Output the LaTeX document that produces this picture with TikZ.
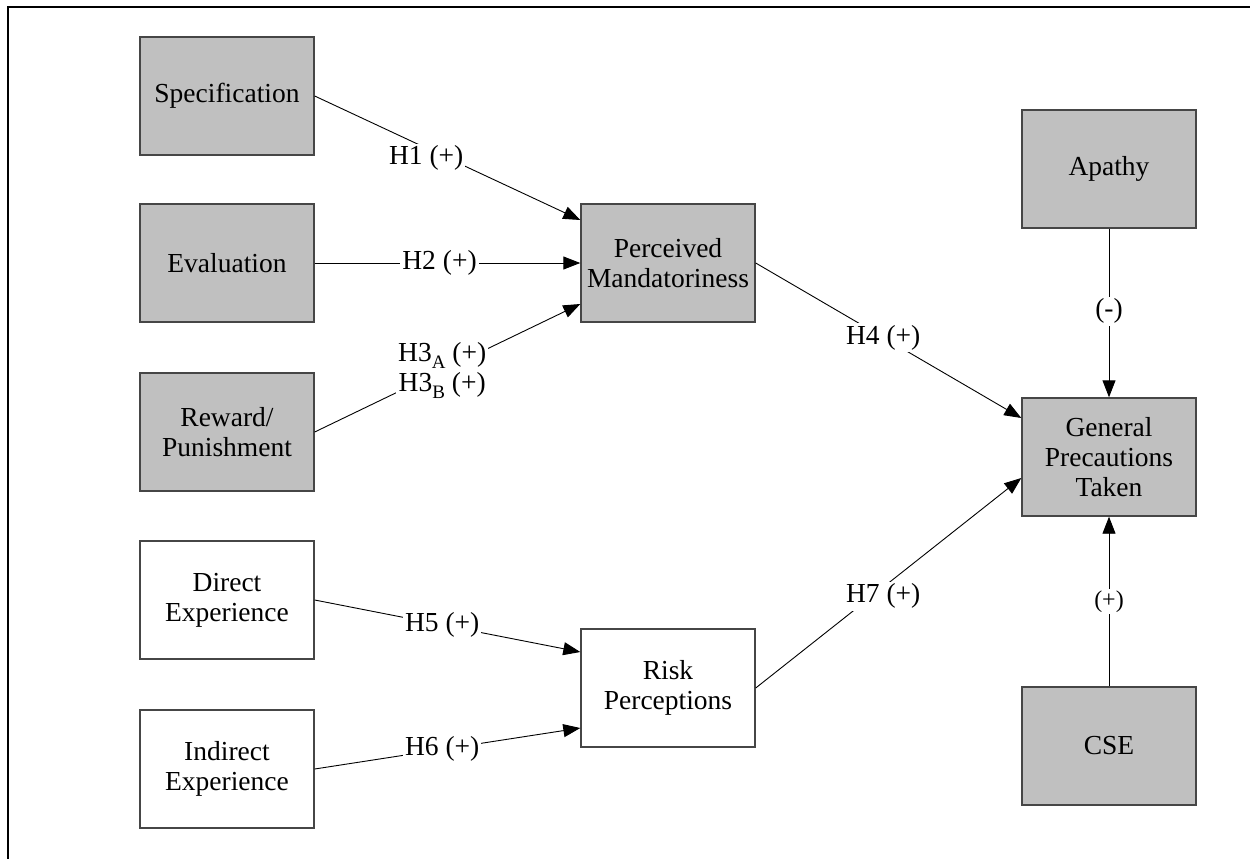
\documentclass[tikz,border=0pt]{standalone}
\usepackage{fontspec}
\setmainfont{Liberation Serif}
\usetikzlibrary{arrows.meta}
\definecolor{boxgray}{RGB}{192,192,192}
\definecolor{edgegray}{RGB}{70,70,70}
\newcommand\mysubscr[1]{\raisebox{-7pt}{\fontsize{19}{20}\selectfont #1}}
\begin{document}
\begin{tikzpicture}[x=1pt,y=-1pt,
  box/.style={draw=edgegray, line width=1.4pt, minimum width=174pt, minimum height=118pt, align=center, font=\fontsize{27.5}{30}\selectfont, inner sep=0pt},
  gbox/.style={box, fill=boxgray},
  wbox/.style={box, fill=white},
  conn/.style={line width=0.9pt, -{Triangle[length=17pt,width=13pt]}},
  lab/.style={fill=white, inner sep=2pt, align=center, font=\fontsize{27.5}{30}\selectfont},
  slab/.style={lab, font=\fontsize{24}{26}\selectfont}]
\useasboundingbox (0,0) rectangle (1250,859);
\draw[line width=2pt] (8,859) -- (8,7) -- (1250,7);

\node[gbox] (spec) at (227,96) {Specification};
\node[gbox] (eval) at (227,263) {Evaluation};
\node[gbox] (rew) at (227,432) {Reward/\\Punishment};
\node[wbox] (dir) at (227,600) {Direct\\Experience};
\node[wbox] (ind) at (227,769) {Indirect\\Experience};
\node[gbox] (pm) at (668,263) {Perceived\\Mandatoriness};
\node[wbox] (rp) at (668,688) {Risk\\Perceptions};
\node[gbox] (ap) at (1109,169) {Apathy};
\node[gbox] (gpt) at (1109,457) {General\\Precautions\\Taken};
\node[gbox] (cse) at (1109,746) {CSE};

\draw[conn] (spec.east) -- node[lab, pos=0.42, yshift=-10pt] {H1 (+)} ([yshift=43pt]pm.west);
\draw[conn] (eval.east) -- node[lab, pos=0.47] {H2 (+)} (pm.west);
\draw[conn] (rew.east) -- node[lab, pos=0.48] {H3\mysubscr{A} (+)\\H3\mysubscr{B} (+)} ([yshift=-41pt]pm.west);
\draw[conn] (pm.east) -- node[lab, pos=0.48] {H4 (+)} ([yshift=39pt]gpt.west);
\draw[conn] (dir.east) -- node[lab, pos=0.48] {H5 (+)} ([yshift=36pt]rp.west);
\draw[conn] (ind.east) -- node[lab, pos=0.48] {H6 (+)} ([yshift=-40pt]rp.west);
\draw[conn] (rp.east) -- node[lab, pos=0.48, yshift=-9pt] {H7 (+)} ([yshift=-21pt]gpt.west);
\draw[conn] (ap.south) -- node[lab, pos=0.49] {(-)} (gpt.north);
\draw[conn] (cse.north) -- node[slab, pos=0.5] {(+)} (gpt.south);
\end{tikzpicture}
\end{document}
